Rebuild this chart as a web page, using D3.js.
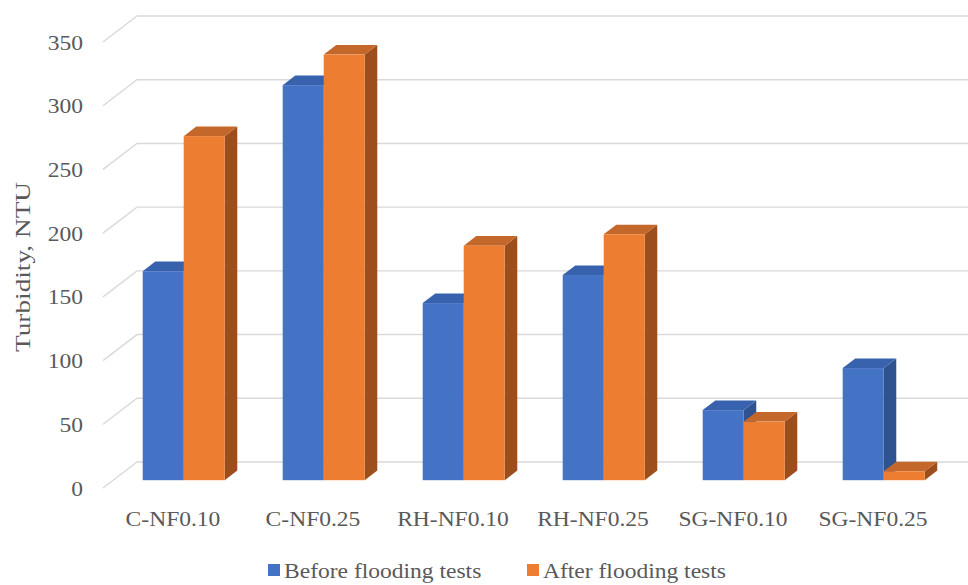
<!DOCTYPE html>
<html>
<head>
<meta charset="utf-8">
<script src="https://cdn.jsdelivr.net/npm/d3@7/dist/d3.min.js"></script>
<style>
  html, body { margin: 0; padding: 0; background: #fff; }
  svg { display: block; }
  svg text { font-family: "Liberation Serif", "Times New Roman", serif; fill: #595959; }
</style>
</head>
<body>
<svg id="chart" width="968" height="585"></svg>
<script>
// Turbidity before/after flooding tests for each nanofluid formulation
const categories = ["C-NF0.10", "C-NF0.25", "RH-NF0.10", "RH-NF0.25", "SG-NF0.10", "SG-NF0.25"];
const seriesNames = ["Before flooding tests", "After flooding tests"];
const beforeValues = [164, 310, 139, 161, 55, 88];
const afterValues = [270, 334, 184, 193, 46, 7];
const yTicks = [0, 50, 100, 150, 200, 250, 300, 350];

const W = 968, H = 585;
const FONT = '"Liberation Serif", "Times New Roman", serif';
const svg = d3.select("#chart").attr("font-family", FONT);

// Faux-3D geometry: floor depth vector and bar placement inside it
const depth = { dx: 34, dy: -26 };
const barDepthStart = 0.3, barDepthEnd = 0.67;
const frontLeft = 103, frontRight = 943;
const textStretch = 1.07;

const yFront = d3.scaleLinear().domain([0, 350]).range([488, 42]);
const x0 = d3.scaleBand().domain(categories).range([frontLeft, frontRight]).padding(0);
const x1 = d3.scaleBand().domain(seriesNames).range([29.5, x0.bandwidth() - 28.5]).padding(0);

const colors = {
  "Before flooding tests": { front: "#4472C4", top: "#3862ad", side: "#2f5290" },
  "After flooding tests": { front: "#ED7D31", top: "#c4672a", side: "#9c4e1d" }
};

// Back wall and side wall gridlines
const grid = svg.append("g");
yTicks.forEach(v => {
  const yf = yFront(v);
  grid.append("path")
    .attr("d", `M${frontLeft},${yf} L${frontLeft + depth.dx},${yf + depth.dy} L${W},${yf + depth.dy}`)
    .attr("fill", "none")
    .attr("stroke", "#d9d9d9")
    .attr("stroke-width", 1.4);
});

// Value axis labels (slightly widened glyphs)
const yAxis = d3.axisLeft(yFront).tickValues(yTicks).tickSize(0).tickPadding(0);
const axisG = svg.append("g").attr("transform", "translate(83,0)").call(yAxis);
axisG.select(".domain").remove();
axisG.attr("font-family", FONT).attr("font-size", 22);
axisG.selectAll(".tick text")
  .attr("fill", "#595959")
  .attr("x", 0)
  .attr("transform", `scale(${textStretch},1)`);

// Bars drawn as prisms: front, top and right side faces
const data = [];
categories.forEach((c, i) => {
  data.push({ cat: c, series: seriesNames[0], value: beforeValues[i] });
  data.push({ cat: c, series: seriesNames[1], value: afterValues[i] });
});

const ox = depth.dx * barDepthStart, oy = depth.dy * barDepthStart;
const bdx = depth.dx * (barDepthEnd - barDepthStart), bdy = depth.dy * (barDepthEnd - barDepthStart);

const bars = svg.append("g");
data.forEach(d => {
  const xl = x0(d.cat) + x1(d.series) + ox;
  const xr = xl + x1.bandwidth();
  const yb = yFront(0) + oy;
  const yt = yFront(d.value) + oy;
  const col = colors[d.series];
  const g = bars.append("g");
  // right side
  g.append("path")
    .attr("d", `M${xr},${yb} L${xr + bdx},${yb + bdy} L${xr + bdx},${yt + bdy} L${xr},${yt} Z`)
    .attr("fill", col.side);
  // top
  g.append("path")
    .attr("d", `M${xl},${yt} L${xr},${yt} L${xr + bdx},${yt + bdy} L${xl + bdx},${yt + bdy} Z`)
    .attr("fill", col.top);
  // front
  g.append("rect")
    .attr("x", xl).attr("y", yt)
    .attr("width", xr - xl).attr("height", yb - yt)
    .attr("fill", col.front);
});

// Category labels
svg.append("g").selectAll("text")
  .data(categories)
  .join("text")
  .attr("transform", d => `translate(${x0(d) + x0.bandwidth() / 2},526) scale(${textStretch},1)`)
  .attr("text-anchor", "middle")
  .attr("font-size", 22)
  .text(d => d);

// Y axis title (elongated along its reading direction)
svg.append("text")
  .attr("transform", "translate(29.5,267) rotate(-90) scale(1.3,1)")
  .attr("text-anchor", "middle")
  .attr("font-size", 21)
  .text("Turbidity, NTU");

// Legend
const legendItems = [
  { name: seriesNames[0], x: 268 },
  { name: seriesNames[1], x: 527 }
];
const lg = svg.append("g");
legendItems.forEach(it => {
  lg.append("rect")
    .attr("x", it.x).attr("y", 564)
    .attr("width", 12).attr("height", 12)
    .attr("fill", colors[it.name].front);
  lg.append("text")
    .attr("transform", `translate(${it.x + 16},578) scale(${textStretch},1)`)
    .attr("font-size", 22)
    .text(it.name);
});
</script>
</body>
</html>
